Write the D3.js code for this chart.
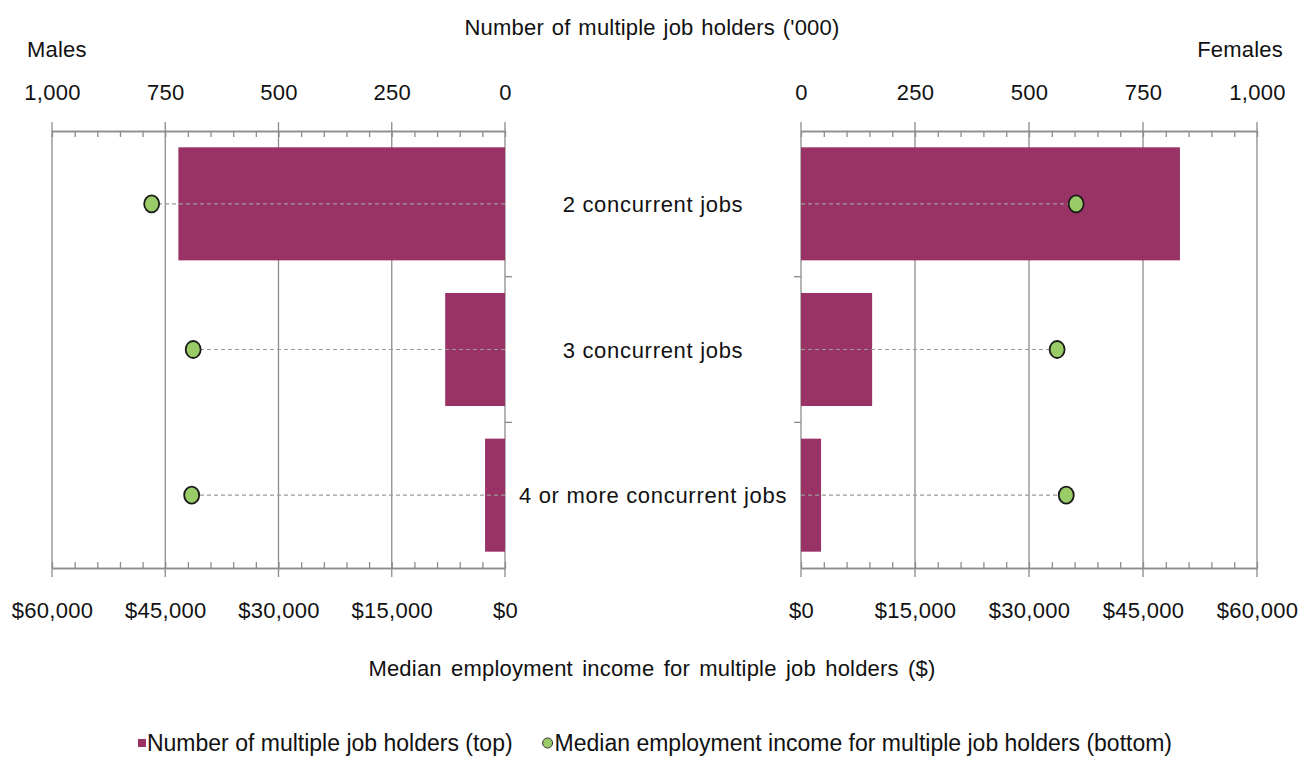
<!DOCTYPE html>
<html>
  <head>
    <meta charset="utf-8">
    <title>Multiple job holders</title>
    <script src="https://d3js.org/d3.v7.min.js"></script>
    <style>
      body { margin: 0; background: #fff; }
      text { font-family: "Liberation Sans", Arial, sans-serif; fill: #111; }
    </style>
  </head>
  <body>
    <div id="chart"></div>
    <script>
      // data
      const categories = ["2 concurrent jobs", "3 concurrent jobs", "4 or more concurrent jobs"];
      const malesHolders = [721, 132, 44];        // '000
      const femalesHolders = [831, 156, 44];      // '000
      const malesIncome = [46800, 41300, 41500];  // $
      const femalesIncome = [36200, 33700, 34900];// $
      const holderTicks = [0, 250, 500, 750, 1000];
      const incomeTicks = [0, 15000, 30000, 45000, 60000];
      const legendLabels = ["Number of multiple job holders (top)",
                            "Median employment income for multiple job holders (bottom)"];

      const width = 1301, height = 767;
      const fontSize = 22;
      const barColor = "#993366";
      const dotColor = "#99cc66";
      const gridColor = "#8c8c8c";

      const svg = d3.select("#chart")
                    .append("svg")
                    .attr("width", width)
                    .attr("height", height);

      const plotTop = 131, plotBottom = 568;
      const yScale = d3.scaleBand()
                       .domain(categories)
                       .range([plotTop, plotBottom])
                       .paddingInner(0.224)
                       .paddingOuter(0.112);

      const panels = [
        {name: "Males", holders: malesHolders, income: malesIncome, range: [505, 52], side: "left"},
        {name: "Females", holders: femalesHolders, income: femalesIncome, range: [801, 1257], side: "right"}
      ];

      panels.forEach(p => {
        const xNum = d3.scaleLinear().domain([0, 1000]).range(p.range);
        const xInc = d3.scaleLinear().domain([0, 60000]).range(p.range);
        const g = svg.append("g");

        // gridlines
        g.selectAll("line.grid")
         .data(holderTicks)
         .join("line")
         .attr("class", "grid")
         .attr("x1", d => xNum(d)).attr("x2", d => xNum(d))
         .attr("y1", plotTop - 9).attr("y2", plotBottom + 9)
         .attr("stroke", gridColor)
         .attr("stroke-width", 1.3);

        // top axis (number of holders)
        const minor = d3.range(0, 1001, 50);
        const topMinor = g.append("g")
                          .attr("transform", `translate(0, ${plotTop})`)
                          .call(d3.axisTop(xNum).tickValues(minor).tickSize(-6).tickSizeOuter(0).tickFormat(""));
        const topAxis = g.append("g")
                         .attr("transform", `translate(0, ${plotTop})`)
                         .call(d3.axisTop(xNum).tickValues(holderTicks).tickSize(0).tickSizeOuter(0)
                                 .tickPadding(31).tickFormat(d3.format(",")));
        // bottom axis (income)
        const botMinor = g.append("g")
                          .attr("transform", `translate(0, ${plotBottom})`)
                          .call(d3.axisBottom(xInc).tickValues(d3.range(0, 60001, 3000)).tickSize(-6).tickSizeOuter(0).tickFormat(""));
        const botAxis = g.append("g")
                         .attr("transform", `translate(0, ${plotBottom})`)
                         .call(d3.axisBottom(xInc).tickValues(incomeTicks).tickSize(0).tickSizeOuter(0)
                                 .tickPadding(34).tickFormat(d3.format("$,")));
        [topMinor, topAxis, botMinor, botAxis].forEach(a => {
          a.select(".domain").attr("stroke", gridColor).attr("stroke-width", 1.3);
          a.selectAll(".tick line").attr("stroke", gridColor).attr("stroke-width", 1.3);
          a.selectAll(".tick text")
           .attr("font-size", fontSize)
           .attr("font-family", "Liberation Sans, Arial, sans-serif")
           .attr("fill", "#111")
           .attr("letter-spacing", 0.3);
        });

        // vertical category axis at zero with band ticks pointing to the middle
        const bounds = [plotTop + yScale.step(), plotTop + 2 * yScale.step()];
        const dir = p.side === "left" ? 1 : -1;
        g.selectAll("line.cat-tick")
         .data(bounds)
         .join("line")
         .attr("class", "cat-tick")
         .attr("x1", xNum(0)).attr("x2", xNum(0) + dir * 7)
         .attr("y1", d => d).attr("y2", d => d)
         .attr("stroke", gridColor)
         .attr("stroke-width", 1.3);

        // bars
        g.selectAll("rect.bar")
         .data(p.holders)
         .join("rect")
         .attr("class", "bar")
         .attr("x", d => Math.min(xNum(0), xNum(d)))
         .attr("width", d => Math.abs(xNum(d) - xNum(0)))
         .attr("y", (d, i) => yScale(categories[i]))
         .attr("height", yScale.bandwidth())
         .attr("fill", barColor);

        // dashed leader lines
        const cy = i => yScale(categories[i]) + yScale.bandwidth() / 2;
        g.selectAll("line.lead")
         .data(p.income)
         .join("line")
         .attr("class", "lead")
         .attr("x1", xInc(0)).attr("x2", d => xInc(d))
         .attr("y1", (d, i) => cy(i)).attr("y2", (d, i) => cy(i))
         .attr("stroke", "#9a9a9a")
         .attr("stroke-width", 1.2)
         .attr("stroke-dasharray", "4,3");

        // income dots
        g.selectAll("ellipse.dot")
         .data(p.income)
         .join("ellipse")
         .attr("class", "dot")
         .attr("cx", d => xInc(d))
         .attr("cy", (d, i) => cy(i))
         .attr("rx", 7.5).attr("ry", 8.5)
         .attr("fill", dotColor)
         .attr("stroke", "#1a1a1a")
         .attr("stroke-width", 1.8);

        // panel name
        svg.append("text")
           .attr("x", p.side === "left" ? 27 : 1283)
           .attr("y", 57)
           .attr("text-anchor", p.side === "left" ? "start" : "end")
           .attr("font-size", fontSize)
           .attr("letter-spacing", 0.2)
           .text(p.name);
      });

      // category labels in the middle
      svg.selectAll("text.cat")
         .data(categories)
         .join("text")
         .attr("class", "cat")
         .attr("x", 653)
         .attr("y", d => yScale(d) + yScale.bandwidth() / 2 + 8)
         .attr("text-anchor", "middle")
         .attr("font-size", fontSize)
         .attr("letter-spacing", 0.7)
         .text(d => d);

      // axis titles
      svg.append("text")
         .attr("x", 652).attr("y", 35)
         .attr("text-anchor", "middle")
         .attr("font-size", fontSize)
         .attr("letter-spacing", 0.2)
         .attr("word-spacing", 1.5)
         .text("Number of multiple job holders ('000)");
      svg.append("text")
         .attr("x", 652).attr("y", 676)
         .attr("text-anchor", "middle")
         .attr("font-size", fontSize)
         .attr("letter-spacing", 0.2)
         .attr("word-spacing", 3)
         .text("Median employment income for multiple job holders ($)");

      // legend, laid out from measured text widths and centred
      const legendSize = 23;
      const legend = svg.append("g");
      const t1 = legend.append("text")
                       .attr("y", 0)
                       .attr("font-size", legendSize)
                       .text(legendLabels[0]);
      const t2 = legend.append("text")
                       .attr("y", 0)
                       .attr("font-size", legendSize)
                       .text(legendLabels[1]);
      const w1 = t1.node().getComputedTextLength();
      const w2 = t2.node().getComputedTextLength();
      const gap = 30;
      const total = 9 + w1 + gap + 12 + w2;
      const x0 = 655 - total / 2;
      legend.attr("transform", "translate(0, 751)");
      legend.append("rect")
            .attr("x", x0).attr("y", -12)
            .attr("width", 8).attr("height", 8)
            .attr("fill", barColor);
      t1.attr("x", x0 + 9);
      legend.append("circle")
            .attr("cx", x0 + 9 + w1 + gap + 5).attr("cy", -8)
            .attr("r", 5)
            .attr("fill", dotColor)
            .attr("stroke", "#333")
            .attr("stroke-width", 1);
      t2.attr("x", x0 + 9 + w1 + gap + 12);
    </script>
  </body>
</html>
